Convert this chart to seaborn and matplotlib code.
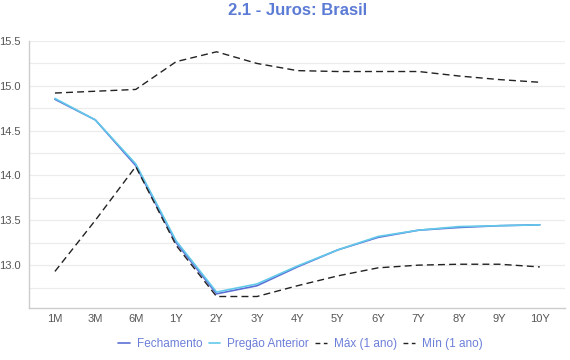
import pandas as pd
import matplotlib.pyplot as plt
import seaborn as sns
from matplotlib.ticker import MultipleLocator

# Data
vertices = ['1M', '3M', '6M', '1Y', '2Y', '3Y', '4Y', '5Y', '6Y', '7Y', '8Y', '9Y', '10Y']
fechamento = [14.85, 14.62, 14.11, 13.25, 12.68, 12.77, 12.98, 13.17, 13.31, 13.39, 13.42, 13.44, 13.45]
pregao_anterior = [14.86, 14.62, 14.13, 13.27, 12.70, 12.79, 12.99, 13.17, 13.32, 13.39, 13.43, 13.44, 13.45]
maximo = [14.92, 14.94, 14.96, 15.27, 15.38, 15.25, 15.17, 15.16, 15.16, 15.16, 15.11, 15.07, 15.04]
minimo = [12.93, 13.50, 14.10, 13.22, 12.65, 12.65, 12.77, 12.88, 12.97, 13.00, 13.01, 13.01, 12.98]

series = {
    'Fechamento': fechamento,
    'Pregão Anterior': pregao_anterior,
    'Máx (1 ano)': maximo,
    'Mín (1 ano)': minimo,
}
styles = {
    'Fechamento': dict(color='#5b6fd6', linestyle='-', linewidth=1.2),
    'Pregão Anterior': dict(color='#62c9ea', linestyle='-', linewidth=1.2),
    'Máx (1 ano)': dict(color='#222222', linestyle=(0, (5, 3)), linewidth=1.0),
    'Mín (1 ano)': dict(color='#222222', linestyle=(0, (5, 3)), linewidth=1.0),
}

df = pd.DataFrame({'vertice': vertices, **series})
df['pos'] = range(len(vertices))

sns.set_theme(style='white')
plt.rcParams['font.family'] = ['Liberation Sans', 'DejaVu Sans']

fig = plt.figure(figsize=(5.7, 3.6), dpi=100)
ax = fig.add_axes([0.051, 0.144, 0.94, 0.742])

for name in series:
    sns.lineplot(data=df, x='pos', y=name, ax=ax, label=name, **styles[name])

ax.set_xlim(-0.64, 12.62)
ax.set_ylim(12.52, 15.5)
ax.set_xticks(df['pos'])
ax.set_xticklabels(vertices)
ax.yaxis.set_major_locator(MultipleLocator(0.5))
ax.yaxis.set_minor_locator(MultipleLocator(0.25))
ax.yaxis.set_major_formatter(plt.FormatStrFormatter('%.1f'))
ax.grid(axis='y', which='both', color='#ececec', linewidth=0.9)
ax.set_axisbelow(True)
ax.set_xlabel('')
ax.set_ylabel('')
ax.tick_params(axis='both', which='both', length=0, colors='#555555', labelsize=8)
ax.tick_params(axis='x', pad=4)
ax.tick_params(axis='y', pad=6)

for side in ['top', 'right']:
    ax.spines[side].set_visible(False)
for side in ['left', 'bottom']:
    ax.spines[side].set_color('#cccccc')
    ax.spines[side].set_linewidth(1)

fig.text(0.522, 0.972, '2.1 - Juros: Brasil', color='#5b7bd5', fontsize=12,
         fontweight='bold', ha='center', va='center')

leg = fig.legend(*ax.get_legend_handles_labels(), loc='center', bbox_to_anchor=(0.527, 0.044),
                 ncol=4, frameon=False, fontsize=8.5, handlelength=0.95,
                 columnspacing=0.55, handletextpad=0.6)
ax.get_legend().remove()
for t in leg.get_texts():
    t.set_color('#6c7fd8')
# short dashes in the legend keys for the 1-year band
for line in leg.get_lines()[2:]:
    line.set_linestyle((0, (3.5, 2.5)))

fig.savefig('out.png', dpi=100)
